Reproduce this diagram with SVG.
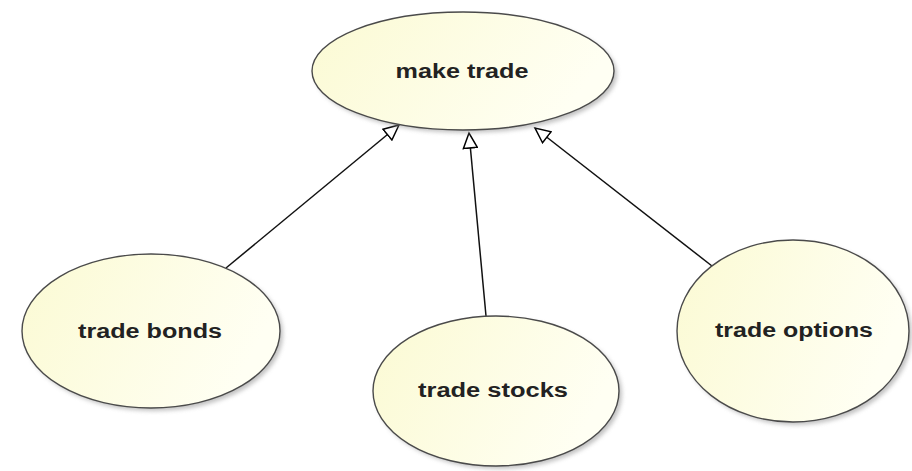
<svg xmlns="http://www.w3.org/2000/svg" width="912" height="471" viewBox="0 0 912 471">
  <defs>
    <linearGradient id="fillGrad" x1="0" y1="0" x2="1" y2="0.3">
      <stop offset="0" stop-color="#fbfad3"/>
      <stop offset="1" stop-color="#fffff3"/>
    </linearGradient>
    <filter id="shadow" x="-10%" y="-10%" width="130%" height="130%">
      <feGaussianBlur stdDeviation="2"/>
    </filter>
    <marker id="hollowTri" markerUnits="userSpaceOnUse" markerWidth="18" markerHeight="16" refX="15" refY="7" orient="auto" viewBox="-1 -1 18 16">
      <path d="M0,0 L15,7 L0,14 Z" fill="#ffffff" stroke="#000000" stroke-width="1.5" stroke-linejoin="miter"/>
    </marker>
  </defs>
  <style>
    .shadow { fill: #9a9a9a; opacity: 0.6; filter: url(#shadow); }
    .usecase { fill: url(#fillGrad); stroke: #4a4a4a; stroke-width: 1.4; }
    .label { font-family: "Liberation Sans", Arial, sans-serif; font-weight: bold; font-size: 20px; fill: #222222; text-anchor: middle; }
    .conn { stroke: #111111; stroke-width: 1.5; fill: none; marker-end: url(#hollowTri); }
  </style>
  <rect width="912" height="471" fill="#ffffff"/>

  <g id="connectors">
    <line class="conn" x1="226" y1="268" x2="399" y2="125"/>
    <line class="conn" x1="486" y1="316" x2="469" y2="133"/>
    <line class="conn" x1="712" y1="266" x2="535" y2="128"/>
  </g>

  <g id="make-trade">
    <ellipse class="shadow" cx="466" cy="74" rx="151" ry="59"/>
    <ellipse class="usecase" cx="463" cy="71" rx="151" ry="59"/>
    <text class="label" x="462" y="78" textLength="133" lengthAdjust="spacingAndGlyphs">make trade</text>
  </g>

  <g id="trade-bonds">
    <ellipse class="shadow" cx="154" cy="334" rx="129" ry="77"/>
    <ellipse class="usecase" cx="151" cy="331" rx="129" ry="77"/>
    <text class="label" x="150" y="338" textLength="144" lengthAdjust="spacingAndGlyphs">trade bonds</text>
  </g>

  <g id="trade-stocks">
    <ellipse class="shadow" cx="499" cy="394" rx="123" ry="75"/>
    <ellipse class="usecase" cx="496" cy="391" rx="123" ry="75"/>
    <text class="label" x="493" y="397" textLength="150" lengthAdjust="spacingAndGlyphs">trade stocks</text>
  </g>

  <g id="trade-options">
    <ellipse class="shadow" cx="796" cy="334" rx="116" ry="91"/>
    <ellipse class="usecase" cx="793" cy="331" rx="116" ry="91"/>
    <text class="label" x="794" y="337" textLength="158" lengthAdjust="spacingAndGlyphs">trade options</text>
  </g>
</svg>
